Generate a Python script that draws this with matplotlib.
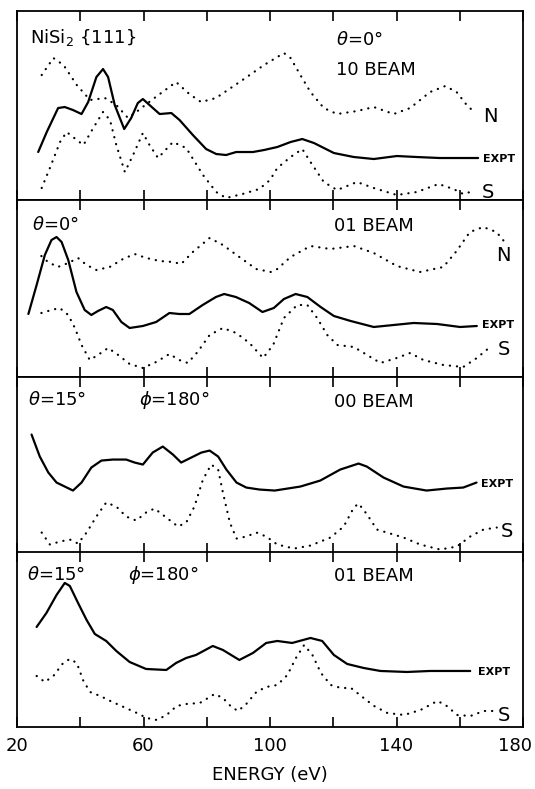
import matplotlib
matplotlib.use("Agg")
import matplotlib.pyplot as plt

# energies (eV) and intensities (arb. units)
p1_expt_e = [26.7, 29.4, 33.0, 35.1, 37.7, 40.4, 42.5, 45.1, 47.2, 48.8, 50.9, 53.9, 56.1, 58.2, 59.8,
             61.9, 65.1, 68.8, 71.4, 75.6, 79.8, 83.0, 86.1, 89.3, 94.6, 98.1, 102.3, 106.5, 110.2,
             113.9, 120.2, 126.5, 132.8, 140.1, 146.4, 153.7, 161.1, 165.8]
p1_expt = [48, 68, 92, 93, 90, 86, 98, 123, 131, 123, 95, 71, 82, 97, 101,
           95, 86, 87, 80, 65, 51, 46, 45, 48, 48, 50, 53, 58, 61,
           57, 47, 43, 41, 44, 43, 42, 42, 42]
p1_n_e = [27.8, 31.5, 34.7, 38.9, 43.1, 47.8, 51.4, 55.1, 57.7, 63.0, 70.3, 74.5, 78.2, 82.9, 91.3,
          98.1, 104.4, 106.5, 109.6, 112.8, 117.0, 121.2, 127.5, 132.8, 139.1, 144.3, 150.6,
          155.4, 159.0, 162.2, 164.9]
p1_n = [125, 142, 135, 115, 100, 102, 95, 82, 88, 101, 118, 106, 98, 102, 120,
        135, 147, 142, 125, 108, 92, 86, 89, 93, 86, 92, 108,
        114, 108, 95, 87]
p1_s_e = [27.8, 30.4, 33.6, 35.7, 38.9, 41.0, 44.1, 47.2, 49.4, 51.4, 54.1, 56.7, 59.8, 61.9, 64.6,
          69.3, 73.5, 78.8, 83.0, 86.1, 91.3, 96.6, 100.0, 102.3, 106.5, 110.2, 112.8, 117.0,
          121.2, 127.5, 132.8, 140.1, 146.4, 153.3, 158.0, 161.1, 163.3]
p1_s = [12, 32, 58, 68, 60, 55, 72, 88, 80, 55, 28, 45, 67, 55, 42,
        58, 52, 25, 8, 2, 6, 11, 20, 32, 43, 51, 38, 18,
        10, 18, 12, 5, 8, 16, 11, 6, 8]

p2_expt_e = [23.6, 26.2, 28.8, 30.9, 32.5, 34.1, 36.2, 38.8, 41.4, 43.5, 45.6, 48.2, 50.3, 53.0, 55.6,
             59.8, 64.0, 68.2, 71.3, 74.5, 78.7, 82.9, 85.5, 89.2, 93.4, 97.6, 101.2, 104.4, 108.1,
             111.8, 116.0, 120.2, 125.5, 132.8, 139.1, 145.4, 152.8, 160.1, 165.4]
p2_expt = [63, 92, 122, 137, 140, 135, 117, 85, 67, 62, 66, 70, 67, 55, 49,
           51, 55, 64, 63, 63, 72, 80, 83, 80, 74, 65, 69, 78, 83,
           80, 70, 61, 56, 50, 52, 54, 53, 50, 51]
p2_n_e = [27.7, 29.8, 32.9, 36.2, 39.3, 42.0, 45.1, 49.3, 53.5, 57.2, 60.9, 65.1, 69.3, 71.9, 75.6,
          80.9, 85.1, 90.3, 95.6, 100.3, 102.3, 106.5, 112.8, 119.1, 126.5, 132.8, 140.1, 147.4,
          154.8, 159.0, 163.2, 167.4, 171.6, 174.2]
p2_n = [121, 115, 110, 114, 119, 112, 107, 110, 118, 123, 119, 116, 115, 113, 125,
        139, 132, 120, 108, 105, 108, 120, 131, 128, 131, 124, 111, 105,
        110, 126, 145, 150, 145, 135]
p2_s_e = [27.7, 30.9, 33.5, 36.2, 38.3, 40.4, 43.0, 45.6, 48.8, 52.0, 55.6, 59.8, 64.0, 68.2, 71.3,
          74.0, 77.1, 80.9, 85.1, 89.3, 93.5, 97.8, 101.0, 104.4, 108.6, 111.8, 114.9, 118.1,
          121.3, 126.5, 130.7, 134.9, 140.1, 144.3, 148.5, 154.8, 161.1, 165.4, 169.6]
p2_s = [64, 67, 69, 62, 49, 32, 17, 22, 29, 22, 13, 9, 15, 23, 17,
        14, 25, 42, 49, 44, 34, 19, 32, 59, 72, 72, 59, 42,
        32, 30, 22, 14, 19, 24, 17, 12, 10, 19, 30]

p3_expt_e = [24.6, 27.2, 29.9, 32.5, 35.1, 37.7, 40.4, 43.5, 46.7, 50.3, 54.5, 57.2, 59.8, 62.9, 66.1,
             69.3, 71.9, 75.1, 78.3, 80.9, 83.6, 86.2, 89.4, 92.5, 96.7, 101.5, 109.6, 115.9,
             122.2, 128.0, 130.6, 135.9, 142.2, 149.5, 155.9, 161.1, 165.3]
p3_expt = [118, 96, 80, 70, 66, 62, 70, 85, 92, 93, 93, 90, 88, 100, 106,
           98, 90, 95, 100, 102, 96, 83, 70, 65, 63, 62, 66, 72,
           83, 89, 86, 75, 66, 62, 64, 65, 70]
p3_s_e = [27.8, 30.4, 33.6, 36.7, 39.3, 42.0, 45.1, 48.2, 51.4, 54.5, 57.7, 60.8, 63.5, 67.2, 70.9,
          73.5, 76.1, 78.8, 81.4, 83.6, 85.1, 87.3, 89.4, 92.5, 95.7, 98.8, 102.3, 107.6, 112.8,
          119.1, 123.3, 126.5, 128.0, 130.7, 133.8, 138.0, 142.2, 147.5, 153.8, 159.1, 163.3,
          167.5, 171.7]
p3_s = [20, 8, 11, 13, 9, 20, 36, 50, 46, 36, 32, 40, 44, 35, 26,
        30, 46, 73, 88, 83, 60, 30, 14, 16, 20, 16, 8, 4, 7,
        15, 26, 45, 49, 38, 23, 19, 15, 8, 3, 6, 16,
        23, 25]

p4_expt_e = [26.2, 29.3, 32.5, 35.1, 36.7, 39.3, 42.0, 44.6, 48.2, 51.4, 55.6, 60.8, 67.2, 70.3, 73.5,
             76.6, 81.9, 85.1, 90.3, 94.6, 98.8, 102.3, 107.0, 112.8, 116.5, 120.2, 124.4, 129.6,
             134.9, 143.3, 150.6, 158.0, 163.3]
p4_expt = [100, 114, 132, 144, 141, 124, 107, 93, 86, 76, 65, 58, 57, 64, 69,
           72, 81, 77, 67, 74, 84, 86, 84, 89, 86, 72, 63, 59,
           56, 55, 56, 56, 56]
p4_s_e = [26.2, 28.8, 31.5, 34.6, 36.7, 38.9, 41.0, 43.1, 46.3, 49.5, 53.7, 57.9, 61.0, 64.2, 67.3,
          70.5, 73.6, 77.8, 82.5, 85.1, 87.8, 89.9, 92.5, 95.7, 98.8, 102.3, 105.5, 108.2, 110.8,
          113.4, 116.1, 119.2, 122.4, 125.6, 128.8, 132.9, 137.1, 142.4, 147.6, 152.9, 155.5,
          159.2, 163.4, 167.6, 170.8]
p4_s = [51, 45, 51, 64, 68, 64, 46, 35, 31, 26, 20, 14, 9, 7, 12,
        21, 23, 24, 33, 29, 20, 16, 23, 35, 40, 42, 52, 69, 82,
        72, 54, 42, 39, 39, 31, 21, 14, 12, 17, 26, 22,
        12, 11, 16, 16]

tick_pos = [20, 40, 60, 80, 100, 120, 140, 160, 180]
tick_text = ['20', '', '60', '', '100', '', '140', '', '']

plt.rcParams['font.family'] = 'DejaVu Sans'
fig = plt.figure(figsize=(5.35, 7.89), dpi=100)

boxes = [(0.7465, 0.2395), (0.5222, 0.2243), (0.2997, 0.2224), (0.0786, 0.2212)]
tops = [189, 177, 175.5, 174.5]
axes = []
for (b, h), top in zip(boxes, tops):
    ax = fig.add_axes([0.0318, b, 0.9458, h])
    ax.set_xlim(20, 180)
    ax.set_ylim(0, top)
    ax.set_yticks([])
    ax.set_xticks(tick_pos)
    ax.tick_params(axis='x', direction='in', top=True, bottom=True, length=7, width=1.2,
                   labelbottom=False, labelsize=13, pad=7)
    for sp in ax.spines.values():
        sp.set_linewidth(1.3)
    axes.append(ax)

solid = dict(color='black', lw=1.6, solid_capstyle='round', solid_joinstyle='round')
dots = dict(color='black', lw=1.6, linestyle=(0, (0.1, 3.1)), dash_capstyle='round')
small = dict(fontsize=8, fontweight='bold')
big = dict(fontsize=13)

ax1, ax2, ax3, ax4 = axes
ax1.plot(p1_expt_e, p1_expt, **solid)
ax1.plot(p1_n_e, p1_n, **dots)
ax1.plot(p1_s_e, p1_s, **dots)
ax1.text(24.1, 157, 'NiSi$_2$ {111}', **big)
ax1.text(120.8, 155, r'$\theta$=0°', **big)
ax1.text(120.8, 125, '10 BEAM', **big)
ax1.text(167.4, 78, 'N', fontsize=14)
ax1.text(167.4, 38, 'EXPT', **small)
ax1.text(166.8, 2, 'S', fontsize=14)

ax2.plot(p2_expt_e, p2_expt, **solid)
ax2.plot(p2_n_e, p2_n, **dots)
ax2.plot(p2_s_e, p2_s, **dots)
ax2.text(24.6, 147, r'$\theta$=0°', **big)
ax2.text(120.2, 146, '01 BEAM', **big)
ax2.text(171.5, 116, 'N', fontsize=14)
ax2.text(167.1, 49, 'EXPT', **small)
ax2.text(172.1, 22, 'S', fontsize=14)

ax3.plot(p3_expt_e, p3_expt, **solid)
ax3.plot(p3_s_e, p3_s, **dots)
ax3.text(23.6, 148, r'$\theta$=15°', **big)
ax3.text(58.7, 148, r'$\phi$=180°', **big)
ax3.text(120.2, 146, '00 BEAM', **big)
ax3.text(166.8, 66, 'EXPT', **small)
ax3.text(173.1, 16, 'S', fontsize=14)

ax4.plot(p4_expt_e, p4_expt, **solid)
ax4.plot(p4_s_e, p4_s, **dots)
ax4.text(23.1, 147, r'$\theta$=15°', **big)
ax4.text(55.0, 147, r'$\phi$=180°', **big)
ax4.text(120.2, 146, '01 BEAM', **big)
ax4.text(165.8, 52, 'EXPT', **small)
ax4.text(172.1, 6, 'S', fontsize=14)

ax4.tick_params(axis='x', labelbottom=True)
ax4.set_xticklabels(tick_text)
# last label nudged left so it stays inside the picture
ax4.annotate('180', xy=(180, 0), xytext=(-6, -7), textcoords='offset points',
             ha='center', va='top', fontsize=13)
ax4.set_xlabel('ENERGY (eV)', fontsize=13, labelpad=8)

fig.savefig('out.png', dpi=100)
